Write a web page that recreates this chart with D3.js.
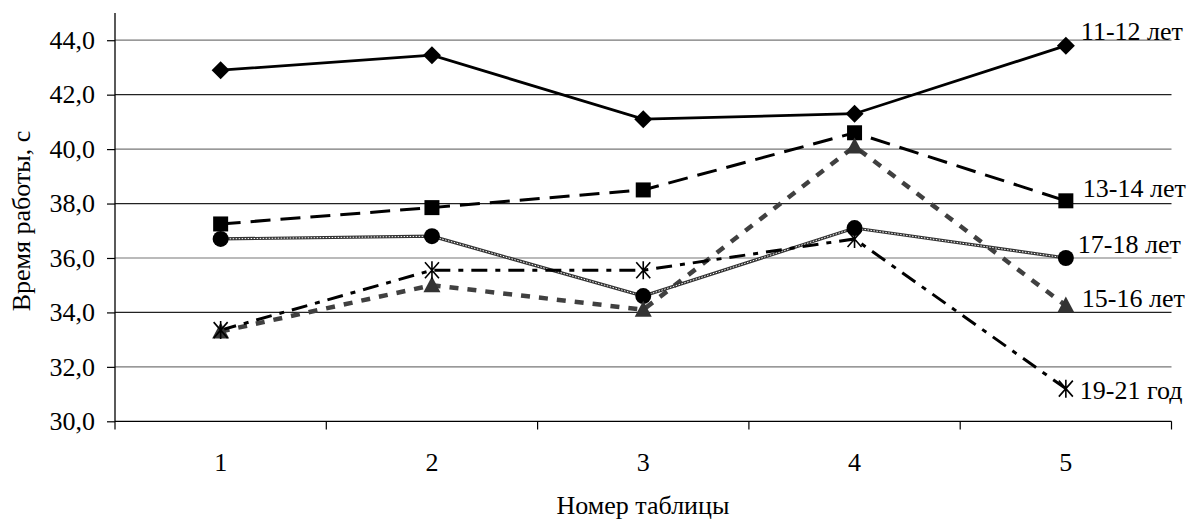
<!DOCTYPE html>
<html><head><meta charset="utf-8">
<script src="https://cdn.jsdelivr.net/npm/d3@7"></script>
<style>body{margin:0;background:#fff}svg{display:block}svg text{font-family:"Liberation Serif","Times New Roman","DejaVu Serif",serif !important;fill:#000}</style>
</head><body><svg id="c" width="1190" height="523"></svg>
<script>
const categories = ["1","2","3","4","5"];
const yTicks = [30,32,34,36,38,40,42,44];
const seriesNames = ["11-12 лет","13-14 лет","17-18 лет","15-16 лет","19-21 год"];
const s1112 = [42.9, 43.45, 41.1, 41.3, 43.8];
const s1314 = [37.25, 37.85, 38.5, 40.6, 38.1];
const s1718 = [36.7, 36.8, 34.6, 37.1, 36.0];
const s1516 = [33.3, 35.0, 34.1, 40.1, 34.25];
const s1921 = [33.35, 35.55, 35.55, 36.7, 31.2];

const FS = 26;
const svg = d3.select("#c");
const x = d3.scaleBand().domain(categories).range([115, 1171.5]).padding(0);
const y = d3.scaleLinear().domain([30, 45]).range([421.3, 13]);
const cx = c => x(c) + x.bandwidth()/2;

// gridlines
svg.append("g").selectAll("line").data(yTicks.filter(t=>t>30)).join("line")
  .attr("x1",115).attr("x2",1171.5).attr("y1",d=>y(d)).attr("y2",d=>y(d))
  .attr("stroke",(d,i)=>i%2?"#222":"#777").attr("stroke-width",1.2);

// y axis
const ya = svg.append("g").attr("transform","translate(115,0)")
  .call(d3.axisLeft(y).tickValues(yTicks).tickSize(8).tickFormat(d=>d3.format(".1f")(d).replace(".",",")));
ya.attr("font-size",FS).attr("font-family",null);
ya.select(".domain").attr("stroke","#000").attr("stroke-width",1.3).attr("d","M0,13V421.3");
ya.selectAll(".tick line").attr("stroke","#000").attr("stroke-width",1.2);
ya.selectAll(".tick text").attr("x",-20).attr("fill","#000");

// x axis
const xa = svg.append("g").attr("transform","translate(0,421.3)")
  .call(d3.axisBottom(x).tickSize(0).tickPadding(31));
xa.attr("font-size",FS).attr("font-family",null);
xa.select(".domain").attr("stroke","#000").attr("stroke-width",1.3).attr("d","M115,0H1171.5");
xa.selectAll(".tick text").attr("fill","#000");
const edges = categories.map(c=>x(c)).concat([x(categories[4])+x.step()]);
svg.append("g").selectAll("line").data(edges).join("line")
  .attr("x1",d=>d).attr("x2",d=>d).attr("y1",421.3).attr("y2",429.5)
  .attr("stroke","#000").attr("stroke-width",1.2);

// titles
svg.append("text").attr("transform","translate(21,221) rotate(-90)").attr("text-anchor","middle")
  .attr("font-size",FS).attr("dy","0.35em").text("Время работы, с");
svg.append("text").attr("x",643).attr("y",514).attr("text-anchor","middle").attr("font-size",FS).text("Номер таблицы");

const line = d3.line().x((d,i)=>cx(categories[i])).y(d=>y(d));

// 15-16 dotted thick gray
svg.append("path").attr("d",line(s1516)).attr("fill","none").attr("stroke","#404040")
  .attr("stroke-width",4.5).attr("stroke-dasharray","9,9");
// 17-18 hatched
svg.append("path").attr("d",line(s1718)).attr("fill","none").attr("stroke","#333").attr("stroke-width",3.2);
svg.append("path").attr("d",line(s1718)).attr("fill","none").attr("stroke","#fff").attr("stroke-width",1).attr("stroke-dasharray","1.5,1.5");
// 19-21 dash-dot
svg.append("path").attr("d",line(s1921)).attr("fill","none").attr("stroke","#000")
  .attr("stroke-width",3).attr("stroke-dasharray","16,8,5,8");
// 13-14 long dash
svg.append("path").attr("d",line(s1314)).attr("fill","none").attr("stroke","#000")
  .attr("stroke-width",3).attr("stroke-dasharray","20,10");
// 11-12 solid
svg.append("path").attr("d",line(s1112)).attr("fill","none").attr("stroke","#000").attr("stroke-width",2.8);

// markers
const g = svg.append("g");
s1112.forEach((v,i)=>{ g.append("path").attr("transform",`translate(${cx(categories[i])},${y(v)})`)
  .attr("d","M0,-9L9,0L0,9L-9,0Z").attr("fill","#000"); });
s1314.forEach((v,i)=>{ g.append("rect").attr("x",cx(categories[i])-7.5).attr("y",y(v)-7.5)
  .attr("width",15).attr("height",15).attr("fill","#000"); });
s1718.forEach((v,i)=>{ g.append("circle").attr("cx",cx(categories[i])).attr("cy",y(v)).attr("r",8).attr("fill","#000"); });
s1516.forEach((v,i)=>{ g.append("path").attr("transform",`translate(${cx(categories[i])},${y(v)})`)
  .attr("d","M0,-9L8.5,7L-8.5,7Z").attr("fill","#333"); });
s1921.forEach((v,i)=>{ g.append("path").attr("transform",`translate(${cx(categories[i])},${y(v)})`)
  .attr("d","M-7,-8L7,8M7,-8L-7,8M0,-9V9").attr("stroke","#000").attr("stroke-width",1.6).attr("fill","none"); });

// labels
const labelY = [s1112[4], s1314[4], s1718[4], s1516[4], s1921[4]];
const labelDy = [-15, -13, -14, -8, 1];
const labelDx = [15, 17, 12, 16, 14];
seriesNames.forEach((n,i)=>{
  svg.append("text").attr("x",cx(categories[4])+labelDx[i]).attr("y",y(labelY[i])+labelDy[i])
    .attr("dy","0.35em").attr("font-size",FS).text(n);
});
</script></body></html>
